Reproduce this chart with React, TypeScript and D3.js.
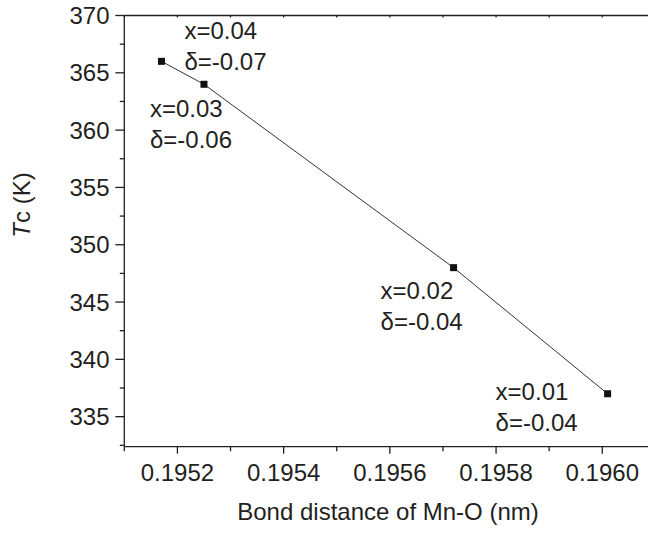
import React, { useEffect, useRef } from 'react';
import * as d3 from 'd3';

// bond distance (nm) vs Tc (K)
const bondDistance = [0.19517, 0.19525, 0.19572, 0.19601];
const tcValues = [366, 364, 348, 337];
const xLabels = ['x=0.04', 'x=0.03', 'x=0.02', 'x=0.01'];
const deltaLabels = ['δ=-0.07', 'δ=-0.06', 'δ=-0.04', 'δ=-0.04'];
// label offsets from each point, in px
const labelDx = [23, -54, -73, -112];
const labelDy = [-22, 33, 31, 6];

const xMajorTicks = [0.1952, 0.1954, 0.1956, 0.1958, 0.196];
const xMinorTicks = [0.1951, 0.1953, 0.1955, 0.1957, 0.1959];
const yMajorTicks = [335, 340, 345, 350, 355, 360, 365, 370];
const yMinorTicks = [332.5, 337.5, 342.5, 347.5, 352.5, 357.5, 362.5, 367.5];

const App = () => {
    const ref = useRef<SVGSVGElement | null>(null);

    useEffect(() => {
        const svg = d3.select(ref.current);
        svg.selectAll('*').remove();

        const left = 124.3, right = 655.4, top = 15.5, bottom = 446.7;
        const font = "'Liberation Sans', Arial, Helvetica, sans-serif";
        const ink = '#231f20';

        var x = d3.scaleLinear().domain([0.1951, 0.1961]).range([left, right]);
        var y = d3.scaleLinear().domain([332.38, 370]).range([bottom, top]);

        // frame lines
        svg.append('line')
            .attr('x1', left).attr('x2', right).attr('y1', top).attr('y2', top)
            .attr('stroke', ink).attr('stroke-width', 1.3);
        svg.append('line')
            .attr('x1', left).attr('x2', right).attr('y1', bottom).attr('y2', bottom)
            .attr('stroke', ink).attr('stroke-width', 1.3);
        svg.append('line')
            .attr('x1', left).attr('x2', left).attr('y1', top).attr('y2', bottom)
            .attr('stroke', ink).attr('stroke-width', 1.3);

        // x ticks
        svg.selectAll('.xmaj').data(xMajorTicks).enter().append('line')
            .attr('x1', d => x(d)).attr('x2', d => x(d))
            .attr('y1', bottom).attr('y2', bottom + 7)
            .attr('stroke', ink).attr('stroke-width', 1.3);
        svg.selectAll('.xmin').data(xMinorTicks).enter().append('line')
            .attr('x1', d => x(d)).attr('x2', d => x(d))
            .attr('y1', bottom).attr('y2', bottom + 4.5)
            .attr('stroke', ink).attr('stroke-width', 1.3);
        // small top ticks
        svg.selectAll('.xtop').data(xMajorTicks.concat(xMinorTicks)).enter().append('line')
            .attr('x1', d => x(d)).attr('x2', d => x(d))
            .attr('y1', top).attr('y2', top + 2)
            .attr('stroke', ink).attr('stroke-width', 1.3);
        svg.selectAll('.xlab').data(xMajorTicks).enter().append('text')
            .attr('x', d => x(d)).attr('y', 480.5)
            .attr('text-anchor', 'middle')
            .attr('font-family', font).attr('font-size', 24).attr('fill', ink)
            .text(d => d.toFixed(4));

        // y ticks
        svg.selectAll('.ymaj').data(yMajorTicks).enter().append('line')
            .attr('x1', left - 9).attr('x2', left)
            .attr('y1', d => y(d)).attr('y2', d => y(d))
            .attr('stroke', ink).attr('stroke-width', 1.3);
        svg.selectAll('.ymin').data(yMinorTicks).enter().append('line')
            .attr('x1', left - 4.5).attr('x2', left)
            .attr('y1', d => y(d)).attr('y2', d => y(d))
            .attr('stroke', ink).attr('stroke-width', 1.3);
        svg.selectAll('.ylab').data(yMajorTicks).enter().append('text')
            .attr('x', 109.5).attr('y', d => y(d)).attr('dy', '0.36em')
            .attr('text-anchor', 'end')
            .attr('font-family', font).attr('font-size', 24).attr('fill', ink)
            .text(d => String(d));

        // axis titles
        svg.append('text')
            .attr('x', 388).attr('y', 520)
            .attr('text-anchor', 'middle')
            .attr('font-family', font).attr('font-size', 24).attr('fill', ink)
            .text('Bond distance of Mn-O (nm)');
        const yt = svg.append('text')
            .attr('transform', 'translate(30,205) rotate(-90)')
            .attr('text-anchor', 'middle')
            .attr('font-family', font).attr('font-size', 24).attr('fill', ink);
        yt.append('tspan').attr('font-style', 'italic').text('T');
        yt.append('tspan').text('c (K)');

        // the line and points
        const pts = bondDistance.map((d, i) => [d, tcValues[i]] as [number, number]);
        var line = d3.line<[number, number]>()
            .x(d => x(d[0]))
            .y(d => y(d[1]));
        svg.append('path')
            .datum(pts)
            .attr('d', line)
            .attr('fill', 'none')
            .attr('stroke', '#333')
            .attr('stroke-width', 1);
        svg.selectAll('.pt').data(pts).enter().append('rect')
            .attr('x', d => x(d[0]) - 3.5)
            .attr('y', d => y(d[1]) - 3.5)
            .attr('width', 7).attr('height', 7)
            .attr('fill', '#111');

        // annotations
        pts.forEach((d, i) => {
            const tx = x(d[0]) + labelDx[i];
            const ty = y(d[1]) + labelDy[i];
            svg.append('text')
                .attr('x', tx).attr('y', ty)
                .attr('font-family', font).attr('font-size', 24).attr('fill', ink)
                .text(xLabels[i]);
            svg.append('text')
                .attr('x', tx).attr('y', ty + 31)
                .attr('font-family', font).attr('font-size', 24).attr('fill', ink)
                .text(deltaLabels[i]);
        });
    }, []);

    return (
        <svg ref={ref} width={648} height={538}
            style={{ position: 'absolute', left: 0, top: 0, background: '#fff' }} />
    );
};

export default App;
